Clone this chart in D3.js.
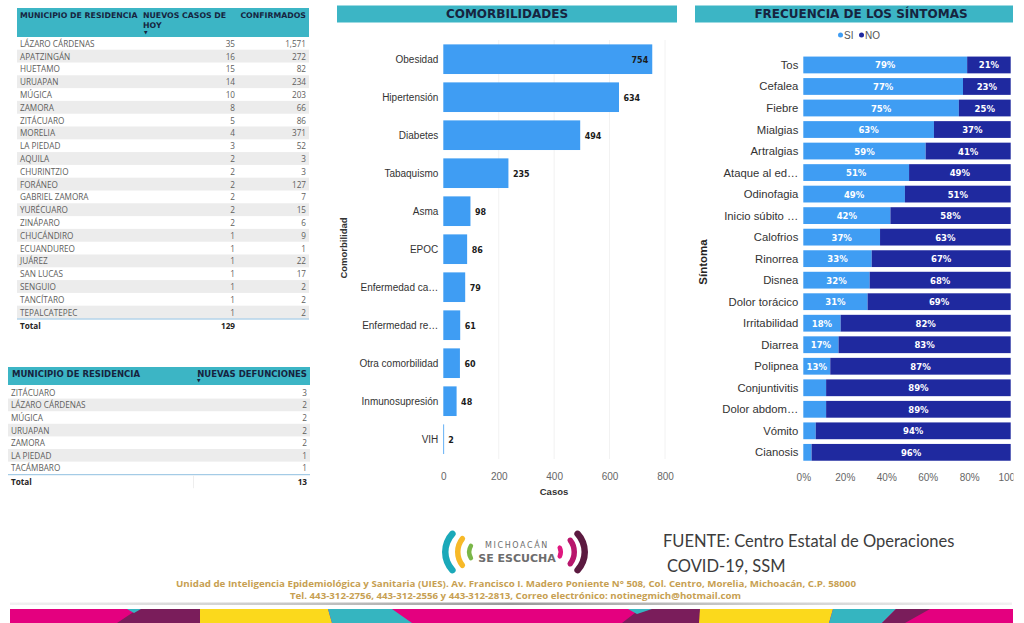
<!DOCTYPE html>
<html><head><meta charset="utf-8">
<script src="https://cdn.jsdelivr.net/npm/d3@7"></script>
<style>body{margin:0;background:#fff;} svg{display:block}</style>
</head><body>
<svg id="c" width="1024" height="623"></svg>
<script>
// ---------- DATA ----------
const municipiosCasos = ["LÁZARO CÁRDENAS","APATZINGÁN","HUETAMO","URUAPAN","MÚGICA","ZAMORA","ZITÁCUARO","MORELIA","LA PIEDAD","AQUILA","CHURINTZIO","FORÁNEO","GABRIEL ZAMORA","YURÉCUARO","ZINÁPARO","CHUCÁNDIRO","ECUANDUREO","JUÁREZ","SAN LUCAS","SENGUIO","TANCÍTARO","TEPALCATEPEC"];
const nuevosCasos = [35,16,15,14,10,8,5,4,3,2,2,2,2,2,2,1,1,1,1,1,1,1];
const confirmados = [1571,272,82,234,203,66,86,371,52,3,3,127,7,15,6,9,1,22,17,2,2,2];
const totalNuevosCasos = 129;

const municipiosDef = ["ZITÁCUARO","LÁZARO CÁRDENAS","MÚGICA","URUAPAN","ZAMORA","LA PIEDAD","TACÁMBARO"];
const nuevasDefunciones = [3,2,2,2,2,1,1];
const totalDefunciones = 13;

const comorbilidades = ["Obesidad","Hipertensión","Diabetes","Tabaquismo","Asma","EPOC","Enfermedad ca…","Enfermedad re…","Otra comorbilidad","Inmunosupresión","VIH"];
const casosComorb = [754,634,494,235,98,86,79,61,60,48,2];
const casosTicks = [0,200,400,600,800];

const sintomas = ["Tos","Cefalea","Fiebre","Mialgias","Artralgias","Ataque al ed…","Odinofagia","Inicio súbito …","Calofrios","Rinorrea","Disnea","Dolor torácico","Irritabilidad","Diarrea","Polipnea","Conjuntivitis","Dolor abdom…","Vómito","Cianosis"];
const pctSi = [79,77,75,63,59,51,49,42,37,33,32,31,18,17,13,11,11,6,4];
const pctNo = [21,23,25,37,41,49,51,58,63,67,68,69,82,83,87,89,89,94,96];
const pctTicks = [0,20,40,60,80,100];

const direccion1 = "Unidad de Inteligencia Epidemiológica y Sanitaria (UIES). Av. Francisco I. Madero Poniente N° 508, Col. Centro, Morelia, Michoacán, C.P. 58000";
const direccion2 = "Tel. 443-312-2756, 443-312-2556 y 443-312-2813, Correo electrónico: notinegmich@hotmail.com";

// ---------- STYLE ----------
const TEAL = "#3cb5c5", HEAD = "#16243f", BODY = "#605e5c";
const SI_C = "#3f9df3", NO_C = "#1f299f";
const HFONT = "DejaVu Sans, sans-serif";
const TFONT = "'Open Sans', sans-serif";
const AFONT = "'Liberation Sans', Arial, sans-serif";

const svg = d3.select("#c");
const fmt = d3.format(",");

function txt(g, s, x, y, o) {
  o = o || {};
  return g.append("text").attr("x", x).attr("y", y).text(s)
    .attr("font-family", o.family || TFONT).attr("font-size", o.size || 8.2)
    .attr("font-weight", o.weight || "normal").attr("fill", o.fill || BODY)
    .attr("text-anchor", o.anchor || "start").attr("dominant-baseline", "central");
}

// ---------- TABLE 1 ----------
const t1 = svg.append("g");
t1.append("rect").attr("x",17).attr("y",8).attr("width",292).attr("height",29).attr("fill",TEAL);
const h1 = {family:HFONT, size:7.8, weight:"bold", fill:HEAD};
txt(t1, "MUNICIPIO DE RESIDENCIA", 20, 15, h1);
txt(t1, "NUEVOS CASOS DE", 143, 15, h1);
txt(t1, "HOY", 143, 25.7, h1);
txt(t1, "▼", 144, 32.5, Object.assign({}, h1, {size:4.5}));
txt(t1, "CONFIRMADOS", 306, 15, Object.assign({}, h1, {anchor:"end"}));

const y1 = d3.scaleBand().domain(d3.range(municipiosCasos.length)).range([36.9, 36.9 + 22*12.8]);
const r1 = t1.selectAll("g.row").data(municipiosCasos).join("g").attr("class","row")
  .attr("transform", (d,i) => `translate(0,${y1(i)})`);
r1.filter((d,i) => i % 2 === 1).append("rect").attr("x",17).attr("width",292)
  .attr("height", y1.bandwidth()).attr("fill","#ececec");
r1.append("text").attr("x",20).attr("y", y1.bandwidth()/2).text(d => d);
r1.append("text").attr("x",235).attr("y", y1.bandwidth()/2).attr("text-anchor","end").text((d,i) => fmt(nuevosCasos[i]));
r1.append("text").attr("x",306).attr("y", y1.bandwidth()/2).attr("text-anchor","end").text((d,i) => fmt(confirmados[i]));
r1.selectAll("text").attr("font-family",TFONT).attr("font-size",8.2).attr("fill",BODY).attr("dominant-baseline","central");
const y1end = y1.range()[1];
t1.append("line").attr("x1",17).attr("x2",309).attr("y1",y1end+0.5).attr("y2",y1end+0.5).attr("stroke","#8fbfe0").attr("stroke-width",1);
txt(t1, "Total", 20, 325, {weight:"bold", fill:"#252423"});
txt(t1, fmt(totalNuevosCasos), 235, 325, {weight:"bold", fill:"#252423", anchor:"end"});

// ---------- TABLE 2 ----------
const t2 = svg.append("g");
t2.append("rect").attr("x",8).attr("y",367).attr("width",302).attr("height",18).attr("fill",TEAL);
const h2 = {family:HFONT, size:8.5, weight:"bold", fill:HEAD};
txt(t2, "MUNICIPIO DE RESIDENCIA", 12, 373.5, h2);
txt(t2, "NUEVAS DEFUNCIONES", 307, 373.5, Object.assign({}, h2, {anchor:"end"}));
txt(t2, "▼", 197, 380.5, Object.assign({}, h2, {size:4.5}));
const y2 = d3.scaleBand().domain(d3.range(municipiosDef.length)).range([386, 386 + 7*12.6]);
const r2 = t2.selectAll("g.row").data(municipiosDef).join("g").attr("class","row")
  .attr("transform", (d,i) => `translate(0,${y2(i)})`);
r2.filter((d,i) => i % 2 === 1).append("rect").attr("x",8).attr("width",302)
  .attr("height", y2.bandwidth()).attr("fill","#ececec");
r2.append("text").attr("x",11).attr("y", y2.bandwidth()/2).text(d => d);
r2.append("text").attr("x",307).attr("y", y2.bandwidth()/2).attr("text-anchor","end").text((d,i) => nuevasDefunciones[i]);
r2.selectAll("text").attr("font-family",TFONT).attr("font-size",8.2).attr("fill",BODY).attr("dominant-baseline","central");
const y2end = y2.range()[1];
t2.append("line").attr("x1",8).attr("x2",310).attr("y1",y2end+0.5).attr("y2",y2end+0.5).attr("stroke","#8fbfe0");
t2.append("line").attr("x1",193.5).attr("x2",193.5).attr("y1",y2end+1).attr("y2",y2end+14).attr("stroke","#eeeeee");
txt(t2, "Total", 11, 481, {weight:"bold", fill:"#252423"});
txt(t2, totalDefunciones, 307, 481, {weight:"bold", fill:"#252423", anchor:"end"});

// ---------- COMORBILIDADES ----------
const cg = svg.append("g");
cg.append("rect").attr("x",337).attr("y",5.5).attr("width",340).attr("height",17).attr("fill",TEAL);
txt(cg, "COMORBILIDADES", 507, 14.3, {family:HFONT, size:12, weight:"bold", fill:HEAD, anchor:"middle"});

const xC = d3.scaleLinear().domain([0,800]).range([443.3,665]);
const yC = d3.scaleBand().domain(comorbilidades).range([40.2,458.2]).paddingInner(0.22).paddingOuter(0.11);

cg.append("g").selectAll("line").data(casosTicks.slice(1)).join("line")
  .attr("x1", d => xC(d)).attr("x2", d => xC(d)).attr("y1",40).attr("y2",459)
  .attr("stroke","#f2f2f2");

cg.append("g").selectAll("rect").data(comorbilidades).join("rect")
  .attr("x", xC(0)).attr("y", d => yC(d)).attr("height", yC.bandwidth())
  .attr("width", (d,i) => Math.max(0.8, xC(casosComorb[i]) - xC(0))).attr("fill", SI_C);

cg.append("g").selectAll("text").data(comorbilidades).join("text")
  .attr("x", 438.3).attr("y", d => yC(d) + yC.bandwidth()/2).text(d => d)
  .attr("text-anchor","end").attr("dominant-baseline","central")
  .attr("font-family",AFONT).attr("font-size",10).attr("fill","#333");

cg.append("g").selectAll("text").data(casosComorb).join("text")
  .attr("x", d => xC(d) + 18 > 665 ? xC(d) - 4 : xC(d) + 4.5)
  .attr("text-anchor", d => xC(d) + 18 > 665 ? "end" : "start")
  .attr("y", (d,i) => yC(comorbilidades[i]) + yC.bandwidth()/2 + 1).text(d => d)
  .attr("dominant-baseline","central")
  .attr("font-family",HFONT).attr("font-size",8).attr("font-weight","bold").attr("fill","#1b1b1b");

const axC = cg.append("g").attr("transform","translate(0,472.5)")
  .call(d3.axisBottom(xC).tickValues(casosTicks).tickSize(0).tickPadding(0));
axC.select(".domain").remove();
axC.selectAll("text").attr("font-family",AFONT).attr("font-size",10).attr("fill","#666");
txt(cg, "Casos", 554, 491, {family:AFONT, size:9.5, weight:"bold", fill:"#333", anchor:"middle"});
txt(cg, "Comorbilidad", 0, 0, {family:AFONT, size:9.5, weight:"bold", fill:"#333", anchor:"middle"})
  .attr("transform","translate(343,248) rotate(-90)");

// ---------- SÍNTOMAS ----------
const sg = svg.append("g");
svg.append("defs").append("clipPath").attr("id","clipS").append("rect")
  .attr("x",690).attr("y",0).attr("width",323.5).attr("height",500);
sg.attr("clip-path","url(#clipS)");
sg.append("rect").attr("x",695).attr("y",5.5).attr("width",318).attr("height",17).attr("fill",TEAL);
txt(sg, "FRECUENCIA DE LOS SÍNTOMAS", 861, 14.3, {family:HFONT, size:12, weight:"bold", fill:HEAD, anchor:"middle"});

// legend
const lg = sg.append("g");
lg.append("circle").attr("cx",840.5).attr("cy",35).attr("r",2.5).attr("fill",SI_C);
txt(lg, "SI", 844, 35, {family:AFONT, size:10, fill:"#555"});
lg.append("circle").attr("cx",861.5).attr("cy",35).attr("r",2.5).attr("fill",NO_C);
txt(lg, "NO", 865, 35, {family:AFONT, size:10, fill:"#555"});

const xS = d3.scaleLinear().domain([0,100]).range([803.3,1010.7]);
const yS = d3.scaleBand().domain(sintomas).range([54.2,463.1]).paddingInner(0.22).paddingOuter(0.11);

const rowsS = sg.append("g").selectAll("g").data(sintomas).join("g")
  .attr("transform", d => `translate(0,${yS(d)})`);
rowsS.append("rect").attr("x", xS(0)).attr("height", yS.bandwidth())
  .attr("width", (d,i) => xS(pctSi[i]) - xS(0)).attr("fill", SI_C);
rowsS.append("rect").attr("x", (d,i) => xS(pctSi[i])).attr("height", yS.bandwidth())
  .attr("width", (d,i) => xS(pctSi[i] + pctNo[i]) - xS(pctSi[i])).attr("fill", NO_C);
rowsS.filter((d,i) => pctSi[i] >= 13).append("text")
  .attr("x", d => (xS(0) + xS(pctSi[sintomas.indexOf(d)])) / 2)
  .text(d => pctSi[sintomas.indexOf(d)] + "%");
rowsS.append("text")
  .attr("x", (d,i) => (xS(pctSi[i]) + xS(pctSi[i] + pctNo[i])) / 2)
  .text((d,i) => pctNo[i] + "%");
rowsS.selectAll("text").attr("y", yS.bandwidth()/2 + 0.5).attr("text-anchor","middle")
  .attr("dominant-baseline","central").attr("font-family",HFONT).attr("font-size",8.5)
  .attr("font-weight","bold").attr("fill","#fff");
rowsS.append("text").attr("x",798.3).attr("y", yS.bandwidth()/2).text(d => d)
  .attr("text-anchor","end").attr("dominant-baseline","central")
  .attr("font-family",AFONT).attr("font-size",11.3).attr("fill","#333");

const axS = sg.append("g").attr("transform","translate(0,474)")
  .call(d3.axisBottom(xS).tickValues(pctTicks).tickSize(0).tickPadding(0).tickFormat(d => d + "%"));
axS.select(".domain").remove();
axS.selectAll("text").attr("font-family",AFONT).attr("font-size",10).attr("fill","#666");
txt(sg, "Síntoma", 0, 0, {family:AFONT, size:11.5, weight:"bold", fill:"#252423", anchor:"middle"})
  .attr("transform","translate(703,262) rotate(-90)");

// ---------- FOOTER ----------
const fg = svg.append("g");
const arcs = [
  {cx:472, r:30, th:50, w:6.5, side:-1, c:"#1ba9b9"},
  {cx:479, r:24, th:46, w:5.5, side:-1, c:"#f7b928"},
  {cx:481, r:14, th:42, w:4.5, side:-1, c:"#7ab648"},
  {cx:551, r:12, th:40, w:4.5, side:1, c:"#e0177f"},
  {cx:555, r:22, th:46, w:5.5, side:1, c:"#b8166c"},
  {cx:558, r:30, th:50, w:6.5, side:1, c:"#5c1a40"}
];
arcs.forEach(a => {
  const mid = a.side < 0 ? -Math.PI/2 : Math.PI/2;
  const t = a.th * Math.PI / 180;
  fg.append("path").attr("transform", `translate(${a.cx},552)`)
    .attr("d", d3.arc().innerRadius(a.r - a.w).outerRadius(a.r).cornerRadius(a.w/2)
      .startAngle(mid - t).endAngle(mid + t)())
    .attr("fill", a.c);
});
fg.append("text").attr("x",517).attr("y",545).text("MICHOACÁN").attr("text-anchor","middle")
  .attr("font-family",HFONT).attr("font-size",8).attr("letter-spacing",1.6).attr("fill","#6d6d6d").attr("dominant-baseline","central");
fg.append("text").attr("x",517).attr("y",558).text("SE ESCUCHA").attr("text-anchor","middle")
  .attr("font-family",HFONT).attr("font-size",11).attr("font-weight","bold").attr("fill","#6d6d6d").attr("dominant-baseline","central");

txt(fg, "FUENTE: Centro Estatal de Operaciones", 663, 541, {family:"Lato, sans-serif", size:16.5, fill:"#3c3c3c"});
txt(fg, "COVID-19, SSM", 667, 566, {family:"Lato, sans-serif", size:16.5, fill:"#3c3c3c"});
txt(fg, direccion1, 176, 583, {family:TFONT, size:8, weight:"bold", fill:"#c79f52"})
  .attr("textLength",680).attr("lengthAdjust","spacingAndGlyphs");
txt(fg, direccion2, 290, 595, {family:TFONT, size:8, weight:"bold", fill:"#c79f52"})
  .attr("textLength",451).attr("lengthAdjust","spacingAndGlyphs");

const grad = svg.select("defs").append("linearGradient").attr("id","gl");
grad.append("stop").attr("offset","0").attr("stop-color","#bbb").attr("stop-opacity",0.2);
grad.append("stop").attr("offset","0.5").attr("stop-color","#999");
grad.append("stop").attr("offset","1").attr("stop-color","#bbb").attr("stop-opacity",0.2);
fg.append("rect").attr("x",10).attr("y",602.5).attr("width",1002).attr("height",2.5).attr("fill","url(#gl)");

fg.append("rect").attr("x",10).attr("y",609).attr("width",1003).attr("height",14).attr("fill","#e4007f");
const bandShapes = [
  {c:"#7a1d5b", p:[[117,623],[138,609],[205,609],[200,623]]},
  {c:"#35b5c0", p:[[127,609],[141,609],[134,613]]},
  {c:"#fbd91c", p:[[200,609],[328,609],[332,623],[200,623]]},
  {c:"#35b5c0", p:[[328,609],[392,609],[412,623],[332,623]]},
  {c:"#7a1d5b", p:[[622,623],[640,609],[701,609],[701,623]]},
  {c:"#35b5c0", p:[[628,609],[652,609],[637,614]]},
  {c:"#fbd91c", p:[[700,609],[833,609],[829,623],[699,623]]},
  {c:"#35b5c0", p:[[833,609],[896,609],[882,623],[829,623]]},
  {c:"#7a1d5b", p:[[896,609],[930,609],[905,623],[882,623]]}
];
fg.append("g").selectAll("path").data(bandShapes).join("path")
  .attr("d", d => d3.line()(d.p) + "Z").attr("fill", d => d.c);
</script>
</body></html>
